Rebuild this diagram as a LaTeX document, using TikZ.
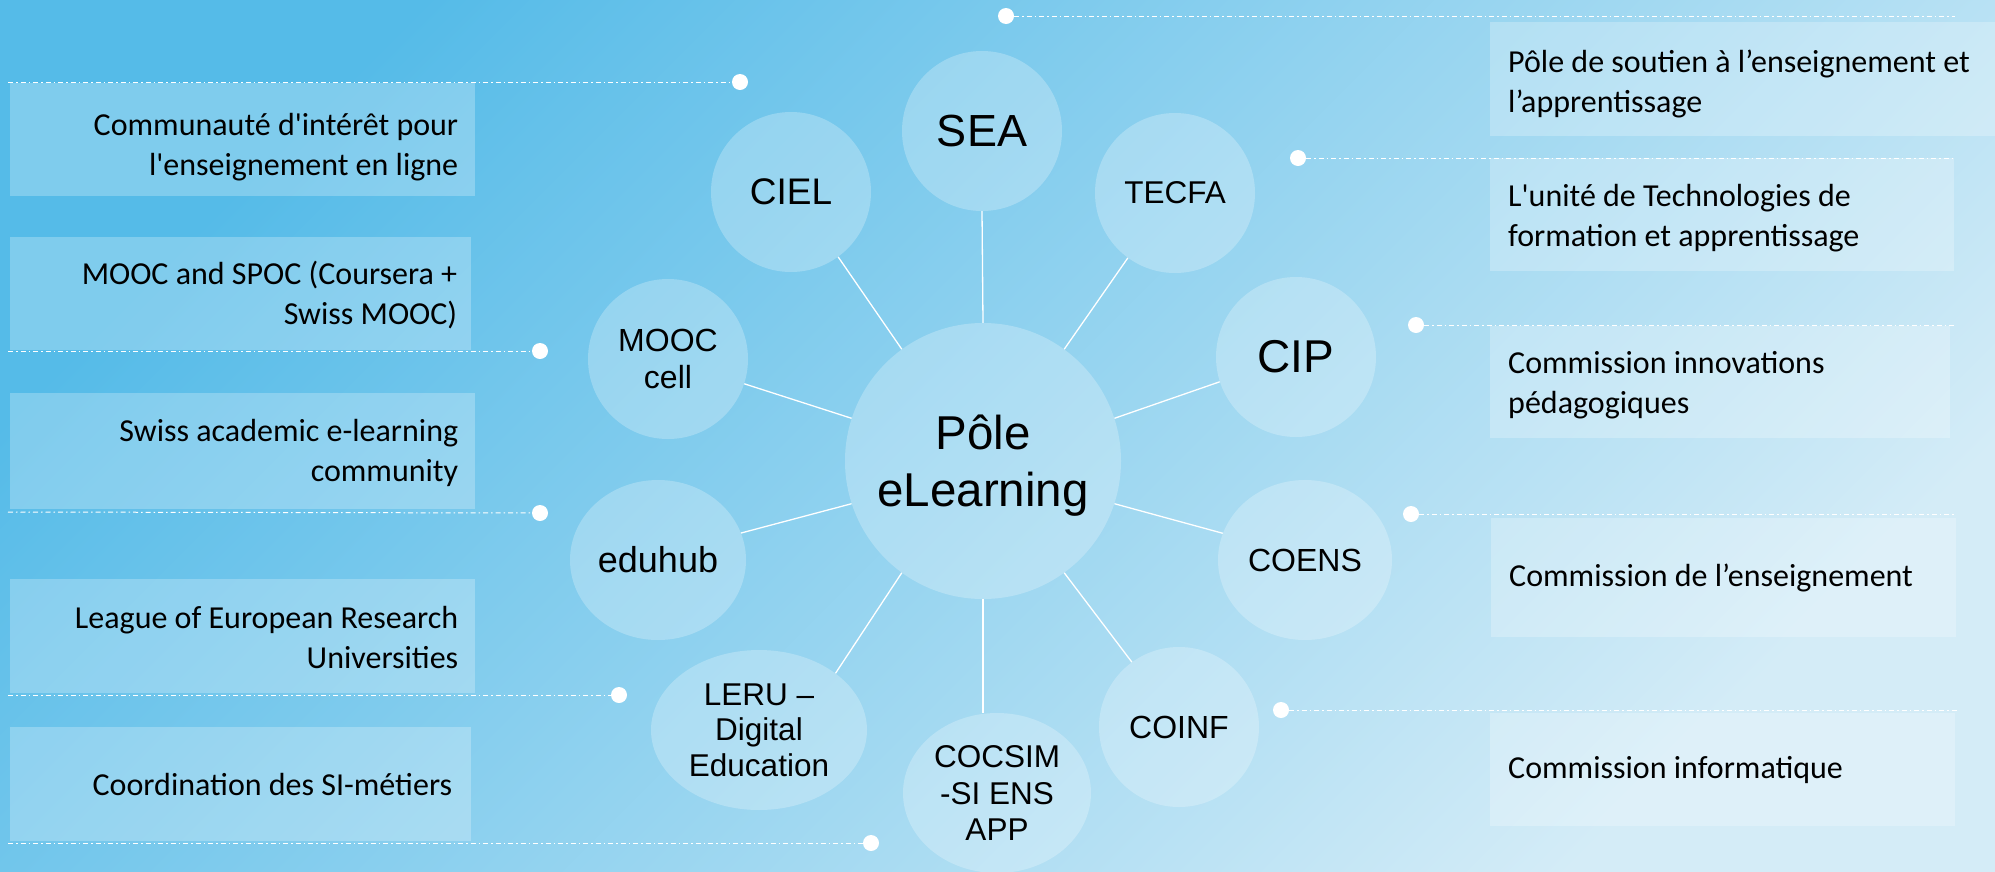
\documentclass[tikz,border=0pt]{standalone}
\usepackage{fontspec}
\setmainfont{Liberation Sans}
\newfontfamily\boxfont{Carlito}
\usetikzlibrary{shapes.geometric}
\definecolor{bgA}{HTML}{55BBE8}
\definecolor{bgB}{HTML}{D4ECF7}
\begin{document}
\begin{tikzpicture}[x=1pt,y=-1pt,
  bub/.style={circle, fill=white, fill opacity=0.25, text opacity=1, text=black, inner sep=0pt, align=center},
  ell/.style={ellipse, fill=white, fill opacity=0.25, text opacity=1, text=black, inner sep=0pt, align=center},
  conn/.style={draw=white, line width=1.3pt},
  dd/.style={draw=white, line width=1pt, dash pattern=on 5pt off 3pt on 1.5pt off 3pt},
  dotn/.style={circle, fill=white, inner sep=0pt, minimum size=16pt},
  boxn/.style={rectangle, fill=white, fill opacity=0.25, inner sep=0pt, anchor=north west},
  btext/.style={font=\boxfont\fontsize{32}{40}\selectfont, inner sep=0pt, text=black}]
\useasboundingbox (0,0) rectangle (1995,871);
\shade[top color=bgA, bottom color=bgB, shading angle=45] (0,0) rectangle (1995,871);

% satellites
\node[bub, minimum size=160pt, font=\fontsize{45}{54}\selectfont] (sea) at (982,131) {SEA};
\node[bub, minimum size=160pt, font=\fontsize{37}{44}\selectfont] (ciel) at (791,192) {CIEL};
\node[bub, minimum size=160pt, font=\fontsize{31.5}{38}\selectfont] (tecfa) at (1175,193) {TECFA};
\node[bub, minimum size=160pt, font=\fontsize{32}{37}\selectfont] (mooc) at (668,359) {MOOC\\cell};
\node[bub, minimum size=160pt, font=\fontsize{46}{55}\selectfont] (cip) at (1296,357) {CIP};
\node[bub, minimum size=276pt,
  label={[name=poletext, align=center, text=black, inner sep=0pt, yshift=-5pt, font=\fontsize{47.5}{57}\selectfont]center:Pôle\\eLearning}] (pole) at (983,461) {};
\node[ell, minimum width=176pt, minimum height=160pt, font=\fontsize{36}{43}\selectfont] (eduhub) at (658,560) {eduhub};
\node[ell, minimum width=174pt, minimum height=160pt, font=\fontsize{32}{38}\selectfont] (coens) at (1305,560) {COENS};
\node[ell, minimum width=216pt, minimum height=160pt, font=\fontsize{31.5}{35.5}\selectfont] (leru) at (759,730) {LERU –\\Digital\\Education};
\node[bub, minimum size=160pt, font=\fontsize{32}{38}\selectfont] (coinf) at (1179,727) {COINF};
\node[ell, minimum width=188pt, minimum height=160pt, font=\fontsize{31.5}{36.5}\selectfont] (cocsim) at (997,793) {COCSIM\\-SI ENS\\APP};

% radial connectors
\draw[conn] (pole.90) -- (sea.270);
\draw[conn] (pole.126) -- (ciel.306);
\draw[conn] (pole.162) -- (mooc.342);
\draw[conn] (pole.198) -- (eduhub.18);
\draw[conn] (pole.234) -- (leru.north east);
\draw[conn] (pole.270) -- (pole.270 |- cocsim.north);
\draw[conn] (pole.306) -- (coinf.126);
\draw[conn] (pole.342) -- (coens.162);
\draw[conn] (pole.18) -- (cip.198);
\draw[conn] (pole.54) -- (tecfa.234);

% left boxes
\node[boxn, minimum width=465pt, minimum height=113pt] (bl1) at (10,83) {};
\node[boxn, minimum width=461pt, minimum height=113pt] (bl2) at (10,237) {};
\node[boxn, minimum width=465pt, minimum height=116pt] (bl3) at (10,393) {};
\node[boxn, minimum width=465pt, minimum height=114pt] (bl4) at (10,579) {};
\node[boxn, minimum width=461pt, minimum height=114pt] (bl5) at (10,727) {};
\node[btext, anchor=east, align=right] (tl1) at ([xshift=-17pt,yshift=-7pt]bl1.east) {Communauté d\textquotesingle intérêt pour\\l\textquotesingle enseignement en ligne};
\node[btext, anchor=east, align=right] (tl2) at ([xshift=-14pt,yshift=-1pt]bl2.east) {MOOC and SPOC (Coursera +\\Swiss MOOC)};
\node[btext, anchor=east, align=right] (tl3) at ([xshift=-17pt,yshift=-2pt]bl3.east) {Swiss academic e-learning\\community};
\node[btext, anchor=east, align=right] (tl4) at ([xshift=-17pt,yshift=-1pt]bl4.east) {League of European Research\\Universities};
\node[btext, anchor=east, align=right] (tl5) at ([xshift=-19pt]bl5.east) {Coordination des SI-métiers};

% right boxes
\node[boxn, minimum width=505pt, minimum height=114pt] (br1) at (1490,22) {};
\node[boxn, minimum width=464pt, minimum height=113pt] (br2) at (1490,158) {};
\node[boxn, minimum width=460pt, minimum height=112pt] (br3) at (1490,326) {};
\node[boxn, minimum width=465pt, minimum height=119pt] (br4) at (1491,518) {};
\node[boxn, minimum width=465pt, minimum height=113pt] (br5) at (1490,713) {};
\node[btext, anchor=west, align=left] (tr1) at ([xshift=18pt,yshift=-5pt]br1.west) {Pôle de soutien à l’enseignement et\\l’apprentissage};
\node[btext, anchor=west, align=left] (tr2) at ([xshift=18pt,yshift=-3pt]br2.west) {L\textquotesingle unité de Technologies de\\formation et apprentissage};
\node[btext, anchor=west, align=left] (tr3) at ([xshift=18pt,yshift=-3pt]br3.west) {Commission innovations\\pédagogiques};
\node[btext, anchor=west, align=left] (tr4) at ([xshift=18pt]br4.west) {Commission de l’enseignement};
\node[btext, anchor=west, align=left] (tr5) at ([xshift=18pt]br5.west) {Commission informatique};

% dash-dot leader lines with dots
\node[dotn] (dr1) at (1006,16) {};
\node[dotn] (dr2) at (1298,158) {};
\node[dotn] (dr3) at (1416,325) {};
\node[dotn] (dr4) at (1411,514) {};
\node[dotn] (dr5) at (1281,710) {};
\coordinate (er1) at (1955,16);
\coordinate (er2) at (1955,158);
\coordinate (er3) at (1955,325);
\coordinate (er4) at (1955,514);
\coordinate (er5) at (1957,710);
\draw[dd] (dr1) -- (er1);
\draw[dd] (dr2) -- (er2);
\draw[dd] (dr3) -- (er3);
\draw[dd] (dr4) -- (er4);
\draw[dd] (dr5) -- (er5);

\node[dotn] (dl1) at (740,82) {};
\node[dotn] (dl2) at (540,351) {};
\node[dotn] (dl3) at (540,513) {};
\node[dotn] (dl4) at (619,695) {};
\node[dotn] (dl5) at (871,843) {};
\coordinate (el1) at (8,82);
\coordinate (el2) at (8,351);
\coordinate (el3) at (8,512);
\coordinate (el4) at (8,695);
\coordinate (el5) at (8,843);
\draw[dd] (el1) -- (dl1);
\draw[dd] (el2) -- (dl2);
\draw[dd] (el3) -- (dl3);
\draw[dd] (el4) -- (dl4);
\draw[dd] (el5) -- (dl5);
\end{tikzpicture}
\end{document}
